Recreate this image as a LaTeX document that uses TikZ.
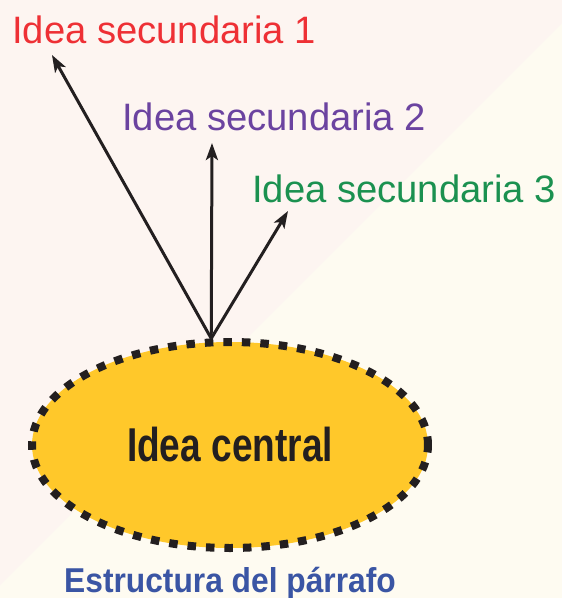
\documentclass[tikz,border=0pt]{standalone}
\usepackage{fontspec}
\setmainfont{Liberation Sans}
\newfontfamily\centralfont[FakeStretch=0.78]{Liberation Sans}
\newfontfamily\titlefont[FakeStretch=0.92]{Liberation Sans}
\usetikzlibrary{shapes.geometric, arrows.meta}

\definecolor{bgpink}{HTML}{FDF5F1}
\definecolor{bgcream}{HTML}{FEFBF1}
\definecolor{ideared}{HTML}{EE3035}
\definecolor{ideapurple}{HTML}{6B43A0}
\definecolor{ideagreen}{HTML}{1B9150}
\definecolor{ideayellow}{HTML}{FFC82A}
\definecolor{ideablue}{HTML}{3A55A4}
\definecolor{ideablack}{HTML}{231F20}

\begin{document}
\begin{tikzpicture}[
x=1pt, y=-1pt,
second/.style={anchor=base west, inner sep=0pt, font=\fontsize{38.2}{40}\selectfont},
central/.style={ellipse, fill=ideayellow, draw=ideablack, line width=8pt, dash pattern=on 8.5pt off 10pt, minimum width=396pt, minimum height=206pt, inner sep=0pt, text=ideablack, font=\centralfont\bfseries\fontsize{47.5}{50}\selectfont},
branch/.style={line width=3pt, ideablack, -{Stealth[length=17pt, width=12pt, inset=4pt]}}
]

%%%% BACKGROUND
\useasboundingbox (0,0) rectangle (562,598);
\fill[bgcream] (0,0) rectangle (562,598);
\fill[bgpink] (0,0)--(585,0)--(0,585)--cycle;

%%%% CENTRAL IDEA
\node[central](C) at (230,445){Idea central};
\coordinate (root) at (C.100);

%%%% SECONDARY IDEAS
\node[second, text=ideared](S1) at (12,43){Idea secundaria 1};
\node[second, text=ideapurple](S2) at (122,130){Idea secundaria 2};
\node[second, text=ideagreen](S3) at (252,202){Idea secundaria 3};

\coordinate (tip1) at (52,55);
\coordinate (tip2) at (212,143);
\coordinate (tip3) at (288,211);

\draw[branch] (root)--(tip1);
\draw[branch] (root)--(tip2);
\draw[branch] (root)--(tip3);

%% title
\node[anchor=base, inner sep=0pt, text=ideablue, font=\titlefont\bfseries\fontsize{34.5}{36}\selectfont](T) at (230,592){Estructura del párrafo};

\end{tikzpicture}
\end{document}
